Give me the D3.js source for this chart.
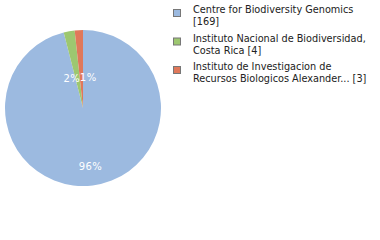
<!DOCTYPE html>
<html>
<head>
<meta charset="utf-8">
<script src="https://cdn.jsdelivr.net/npm/d3@7"></script>
<style>
  body { margin: 0; background: #fff; }
  svg { display: block; }
</style>
</head>
<body>
<div id="chart"></div>
<script>
const labels = [
    ["Centre for Biodiversity Genomics", "[169]"],
    ["Instituto Nacional de Biodiversidad,", "Costa Rica [4]"],
    ["Instituto de Investigacion de", "Recursos Biologicos Alexander... [3]"]
];
const counts = [169, 4, 3];
const colors = ["#9cbae0", "#9dc770", "#e0785a"];

const width = 380;
const height = 240;
const cx = 83, cy = 108;
const radius = 78;

const svg = d3.select("#chart")
    .append("svg")
    .attr("width", width)
    .attr("height", height);

const total = d3.sum(counts);
const data = counts.map((v, i) => ({ value: v, color: colors[i], label: labels[i] }));

const pie = d3.pie().value(d => d.value).sort(null);
const arc = d3.arc().innerRadius(0).outerRadius(radius);

const g = svg.append("g").attr("transform", `translate(${cx},${cy})`);
const arcs = pie(data);

g.selectAll("path")
    .data(arcs)
    .enter()
    .append("path")
    .attr("d", arc)
    .attr("fill", d => d.data.color);

// small slices get their labels pulled in toward the centre
const bigLabel = d3.arc().innerRadius(radius * 0.76).outerRadius(radius * 0.76);
const smallLabel = d3.arc().innerRadius(radius * 0.39).outerRadius(radius * 0.39);

g.selectAll("text")
    .data(arcs)
    .enter()
    .append("text")
    .attr("transform", d => {
        const small = d.data.value / total < 0.05;
        const [x, y] = (small ? smallLabel : bigLabel).centroid(d);
        return `translate(${x},${y})`;
    })
    .attr("text-anchor", (d, i) => i === 1 ? "end" : (i === 2 ? "start" : "middle"))
    .attr("dx", (d, i) => i === 1 ? 2.5 : (i === 2 ? -1.5 : 0))
    .attr("dy", "0.35em")
    .attr("fill", "#fff")
    .style("font-family", "DejaVu Sans")
    .style("font-size", "10px")
    .style("letter-spacing", "0.4px")
    .text(d => Math.floor(d.data.value / total * 100) + "%");

const legend = svg.append("g").attr("transform", "translate(173,8)");
const item = legend.selectAll("g")
    .data(data)
    .enter()
    .append("g")
    .attr("transform", (d, i) => `translate(0,${i * 28.5})`);

item.append("rect")
    .attr("x", 0.5)
    .attr("y", 1.5)
    .attr("width", 7)
    .attr("height", 7)
    .attr("fill", d => d.color)
    .attr("stroke", "#777")
    .attr("stroke-width", 1);

item.append("text")
    .attr("x", 20)
    .attr("y", 5)
    .style("font-family", "DejaVu Sans Condensed")
    .style("font-size", "10.8px")
    .attr("fill", "#222")
    .selectAll("tspan")
    .data(d => d.label)
    .enter()
    .append("tspan")
    .attr("x", 20)
    .attr("dy", (d, i) => i === 0 ? 0 : 12)
    .text(d => d);
</script>
</body>
</html>
